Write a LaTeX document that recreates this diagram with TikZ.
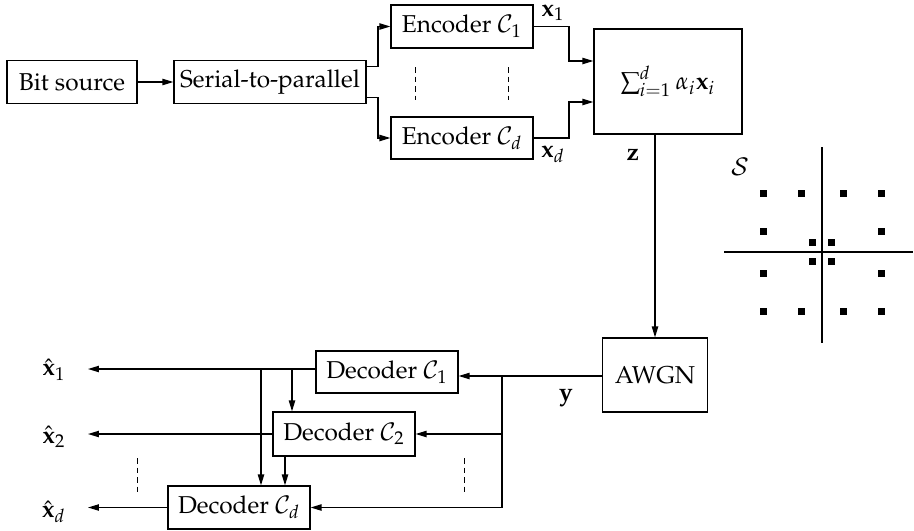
\documentclass[tikz,border=0pt]{standalone}
\usepackage[T1]{fontenc}
\usepackage{mathpazo}
\usetikzlibrary{arrows.meta}
\begin{document}
\begin{tikzpicture}[x=0.41pt,y=-0.41pt,
  box/.style={draw, line width=0.5pt, inner sep=0pt},
  conn/.style={line width=0.5pt},
  arr/.style={conn, -{Triangle[length=4.5pt,width=2.6pt]}},
  dsh/.style={line width=0.4pt, dash pattern=on 2.4pt off 1.5pt},
  lbl/.style={inner sep=0pt},
  pt/.style={fill=black}]
\useasboundingbox (0,0) rectangle (914,530);

% transmitter
\node[box, minimum width={130*0.41pt}, minimum height={43*0.41pt}] (bs) at (72,82) {Bit source};
\node[box, minimum width={192*0.41pt}, minimum height={43*0.41pt}] (s2p) at (270,82) {Serial-to-parallel};
\node[box, minimum width={142*0.41pt}, minimum height={43*0.41pt}] (enc1) at (462,26.5) {Encoder $\mathcal{C}_1$};
\node[box, minimum width={142*0.41pt}, minimum height={42*0.41pt}] (encd) at (462,138) {Encoder $\mathcal{C}_d$};
\node[box, minimum width={148*0.41pt}, minimum height={105*0.41pt}] (sum) at (668,81.5) {$\sum_{i=1}^{d}\alpha_i\mathbf{x}_i$};
\node[box, minimum width={105*0.41pt}, minimum height={74*0.41pt}] (awgn) at (655,375) {AWGN};

% receiver
\node[box, minimum width={142*0.41pt}, minimum height={42*0.41pt}] (dec1) at (387,372) {Decoder $\mathcal{C}_1$};
\node[box, minimum width={142*0.41pt}, minimum height={44*0.41pt}] (dec2) at (344,434) {Decoder $\mathcal{C}_2$};
\node[box, minimum width={142*0.41pt}, minimum height={43*0.41pt}] (decd) at (239,507.5) {Decoder $\mathcal{C}_d$};

% labels
\node[lbl] (lx1) at (553,13) {$\mathbf{x}_1$};
\node[lbl] (lxd) at (553,154) {$\mathbf{x}_d$};
\node[lbl] (lz) at (633,155) {$\mathbf{z}$};
\node[lbl] (ly) at (566,398) {$\mathbf{y}$};
\node[lbl] (lS) at (740,167) {$\mathcal{S}$};
\node[lbl, anchor=east] (xh1) at (66,370) {$\hat{\mathbf{x}}_1$};
\node[lbl, anchor=east] (xh2) at (66,437) {$\hat{\mathbf{x}}_2$};
\node[lbl, anchor=east] (xhd) at (66,512) {$\hat{\mathbf{x}}_d$};

% helper coordinates
\coordinate (js) at (378,0);
\coordinate (jx) at (569,0);
\coordinate (jy) at (502,0);
\coordinate (tip) at (88,0);
\coordinate (b1) at (261,0);
\coordinate (b2) at (292,0);
\coordinate (b3) at (285,0);
\coordinate (s2pt) at ([yshift={15.5*0.41pt}]s2p.east);
\coordinate (s2pb) at ([yshift={-15.5*0.41pt}]s2p.east);
\coordinate (sumt) at ([yshift={20.5*0.41pt}]sum.west);
\coordinate (sumb) at ([yshift={-20.5*0.41pt}]sum.west);
\coordinate (dec1in) at ([yshift={-4*0.41pt}]dec1.east);
\coordinate (dec1out) at ([yshift={3*0.41pt}]dec1.west);

% connectors (transmitter)
\draw[arr] (bs) -- (s2p);
\draw[arr] (s2pt) -- (s2pt -| js) |- (enc1.west);
\draw[arr] (s2pb) -- (s2pb -| js) |- (encd.west);
\draw[arr] (enc1.east) -- (enc1.east -| jx) |- (sumt);
\draw[arr] (encd.east) -- (encd.east -| jx) |- (sumb);
\draw[dsh] (415,67) -- (415,100);
\draw[dsh] (508,67) -- (508,100);
\draw[arr] (sum.south -| awgn.north) -- (awgn.north);

% connectors (receiver)
\draw[arr] (awgn.west |- dec1in) -- (dec1in);
\draw[arr] (jy |- dec1in) |- (dec2.east);
\draw[arr] (jy |- dec1in) |- (decd.east);
\draw[arr] (dec1out) -- (dec1out -| tip);
\draw[arr] (dec2.west) -- (dec2.west -| tip);
\draw[arr] (decd.west) -- (decd.west -| tip);
\draw[arr] (dec1out -| b1) -- (b1 |- decd.north);
\draw[arr] (dec1out -| b2) -- (b2 |- dec2.north);
\draw[arr] (b3 |- dec2.south) -- (b3 |- decd.north);
\draw[dsh] (137,458) -- (137,493);
\draw[dsh] (464,458) -- (464,493);

% constellation
\draw[conn] (822,147) -- (822,343);
\draw[conn] (724,252) -- (913,252);
\foreach \dx/\dy in {-59/-59,-21/-59,21/-59,59/-59,
                     -59/-21,59/-21,
                     -9.5/-9.5,9.5/-9.5,-9.5/9.5,9.5/9.5,
                     -59/21,59/21,
                     -59/59,-21/59,21/59,59/59}
  \fill[pt] (822+\dx-3.5,252+\dy-3.5) rectangle ++(7,7);
\end{tikzpicture}
\end{document}
